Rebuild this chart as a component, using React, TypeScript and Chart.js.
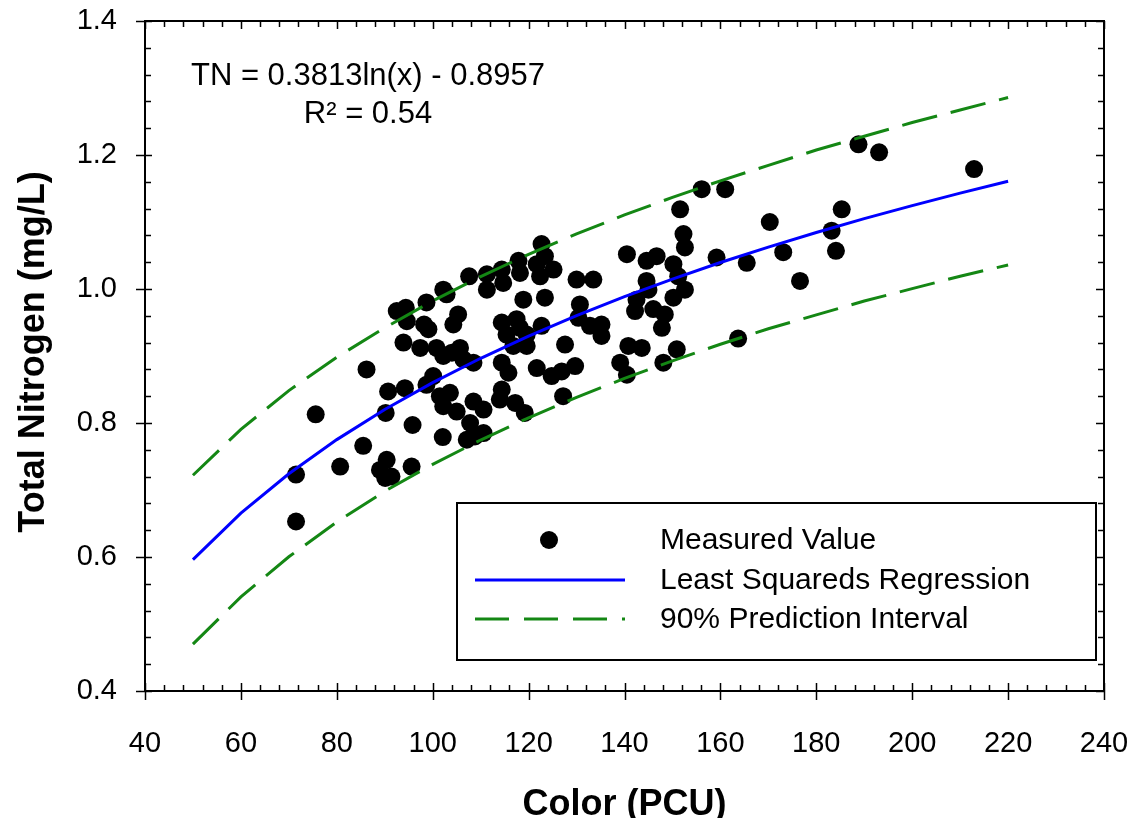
import React, { useEffect, useRef } from "react";
import { Chart, registerables } from "chart.js";

Chart.register(...registerables);

// Measured values (Color PCU, Total Nitrogen mg/L)
const measuredX = [
  107.6, 111.3, 111.3, 102.2, 102.9, 98.7, 92.5, 94.4, 94.6, 98.2, 99.1, 105.3, 104.3,
  93.9, 97.4, 100.8, 102.2, 104.0, 105.7, 106.4, 108.5, 86.2, 100.1, 98.7, 90.7, 94.2,
  101.5, 103.6, 102.2, 105.0, 108.5, 107.8, 75.6, 90.2, 95.8, 102.1, 107.1, 108.8, 85.5,
  80.7, 90.4, 89.0, 90.1, 91.4, 95.6, 71.5, 71.5,
  122.7, 140.5, 144.6, 146.7, 150.2, 152.3, 114.4, 114.7, 117.9, 118.2, 121.7, 123.4, 125.2,
  122.4, 118.9, 123.4, 130.0, 133.5, 144.6, 145.0, 150.2, 130.7, 142.5, 142.2, 146.0, 148.4,
  114.4, 117.5, 118.2, 115.4, 119.6, 122.7, 130.4, 132.8, 135.2, 135.2, 147.8, 116.8, 119.6,
  127.6, 140.8, 143.6, 150.9, 114.4, 115.8, 121.7, 124.8, 126.9, 129.7, 139.1, 140.5, 148.1,
  114.4, 114.0, 117.2, 119.2, 110.6, 127.2, 110.6,
  188.8, 193.1, 156.1, 161.0, 151.6, 185.3, 170.3, 152.6, 183.2, 159.2, 165.5, 173.1, 184.1,
  151.2, 152.6, 176.6, 163.7, 212.9,
];
const measuredY = [
  1.019, 1.022, 0.999, 0.999, 0.992, 0.98, 0.967, 0.972, 0.952, 0.947, 0.94, 0.962, 0.947,
  0.92, 0.912, 0.912, 0.9, 0.905, 0.912, 0.895, 0.89, 0.88, 0.87, 0.857, 0.847, 0.852,
  0.84, 0.845, 0.825, 0.817, 0.832, 0.8, 0.813, 0.815, 0.797, 0.779, 0.775, 0.78, 0.766,
  0.735, 0.745, 0.73, 0.718, 0.72, 0.735, 0.723, 0.653,
  1.067, 1.052, 1.042, 1.049, 1.037, 1.082, 1.029, 1.009, 1.042, 1.024, 1.037, 1.049, 1.029,
  1.019, 0.984, 0.987, 1.014, 1.014, 1.012, 0.999, 0.987, 0.977, 0.984, 0.967, 0.97, 0.962,
  0.95, 0.955, 0.942, 0.932, 0.932, 0.945, 0.957, 0.945, 0.947, 0.93, 0.942, 0.915, 0.915,
  0.917, 0.915, 0.912, 0.91, 0.89, 0.875, 0.882, 0.87, 0.877, 0.885, 0.89, 0.872, 0.89,
  0.85, 0.835, 0.83, 0.815, 0.82, 0.84, 0.785,
  1.216, 1.204, 1.149, 1.149, 1.119, 1.119, 1.1, 1.062, 1.087, 1.047, 1.039, 1.055, 1.057,
  1.019, 0.999, 1.012, 0.926, 1.179,
];

// Curves (read at 10 PCU steps)
const curveX = [50, 60, 70, 80, 90, 100, 110, 120, 130, 140, 150, 160, 170, 180, 190, 200, 210, 220];
const regressionY = [
  0.596, 0.6655, 0.7243, 0.7752, 0.8201, 0.8603, 0.8966, 0.9298, 0.9603, 0.9885, 1.0148,
  1.0395, 1.0626, 1.0844, 1.105, 1.1245, 1.1431, 1.1609,
];
const upperY = [
  0.722, 0.7905, 0.8483, 0.8982, 0.9421, 0.9823, 1.0186, 1.0518, 1.0823, 1.1105, 1.1368,
  1.1615, 1.1846, 1.2074, 1.228, 1.2485, 1.2671, 1.2859,
];
const lowerY = [
  0.47, 0.5405, 0.6003, 0.6522, 0.6981, 0.7383, 0.7746, 0.8078, 0.8383, 0.8665, 0.8928,
  0.9175, 0.9406, 0.9614, 0.982, 1.0005, 1.0191, 1.0359,
];

const X_MIN = 40, X_MAX = 240, X_STEP = 20, X_MINOR = 4;
const Y_MIN = 0.4, Y_MAX = 1.4, Y_STEP = 0.2, Y_MINOR = 0.04;

const labels = {
  x: "Color (PCU)",
  y: "Total Nitrogen (mg/L)",
  eq1: "TN = 0.3813ln(x) - 0.8957",
  eq2: "R\u00B2 = 0.54",
  measured: "Measured Value",
  regression: "Least Squareds Regression",
  interval: "90% Prediction Interval",
};

const FONT = "'Liberation Sans', Arial, sans-serif";
const BLUE = "#0000ff";
const GREEN = "rgb(20,135,20)";
const DASH = [36, 14];

const decorPlugin = {
  id: "decor",
  afterDraw(chart: any) {
    const { ctx, chartArea: a, scales } = chart;
    const xs = scales.x, ys = scales.y;
    ctx.save();
    ctx.strokeStyle = "#000";
    ctx.lineWidth = 2;
    ctx.strokeRect(a.left, a.top, a.right - a.left, a.bottom - a.top);

    const nx = Math.round((X_MAX - X_MIN) / X_MINOR);
    ctx.lineWidth = 1.5;
    for (let i = 0; i <= nx; i++) {
      const v = X_MIN + i * X_MINOR;
      const px = Math.round(xs.getPixelForValue(v)) + 0.5;
      const major = i % 5 === 0;
      ctx.beginPath();
      ctx.moveTo(px, a.bottom + (major ? 9 : 0));
      ctx.lineTo(px, a.bottom - (major ? 8 : 6));
      ctx.moveTo(px, a.top);
      ctx.lineTo(px, a.top + (major ? 8 : 6));
      ctx.stroke();
    }
    const ny = Math.round((Y_MAX - Y_MIN) / Y_MINOR);
    for (let i = 0; i <= ny; i++) {
      const v = Y_MIN + i * Y_MINOR;
      const py = Math.round(ys.getPixelForValue(v)) + 0.5;
      const major = i % 5 === 0;
      ctx.beginPath();
      ctx.moveTo(a.left - (major ? 9 : 0), py);
      ctx.lineTo(a.left + (major ? 7 : 6), py);
      ctx.moveTo(a.right, py);
      ctx.lineTo(a.right - (major ? 8 : 6), py);
      ctx.stroke();
    }

    ctx.fillStyle = "#000";
    ctx.font = `bold 36px ${FONT}`;
    ctx.textAlign = "center";
    ctx.textBaseline = "alphabetic";
    ctx.fillText(labels.x, (a.left + a.right) / 2, 815);
    ctx.save();
    ctx.translate(44, (a.top + a.bottom) / 2 - 4);
    ctx.rotate(-Math.PI / 2);
    ctx.fillText(labels.y, 0, 0);
    ctx.restore();

    ctx.font = `31px ${FONT}`;
    ctx.fillText(labels.eq1, 368, 85);
    ctx.fillText(labels.eq2, 368, 123);

    const bx = 457, by = 503, bw = 639, bh = 157;
    ctx.fillStyle = "#fff";
    ctx.fillRect(bx, by, bw, bh);
    ctx.lineWidth = 2;
    ctx.strokeStyle = "#000";
    ctx.strokeRect(bx, by, bw, bh);
    const rows = [540, 580, 619];
    ctx.fillStyle = "#000";
    ctx.beginPath();
    ctx.arc(549, rows[0], 9, 0, Math.PI * 2);
    ctx.fill();
    ctx.lineWidth = 3;
    ctx.strokeStyle = BLUE;
    ctx.beginPath();
    ctx.moveTo(475, rows[1]);
    ctx.lineTo(625, rows[1]);
    ctx.stroke();
    ctx.strokeStyle = GREEN;
    ctx.setLineDash([34, 15]);
    ctx.beginPath();
    ctx.moveTo(475, rows[2]);
    ctx.lineTo(625, rows[2]);
    ctx.stroke();
    ctx.setLineDash([]);
    ctx.font = `30px ${FONT}`;
    ctx.textAlign = "left";
    ctx.textBaseline = "middle";
    ctx.fillStyle = "#000";
    ctx.fillText(labels.measured, 660, rows[0] + 1);
    ctx.fillText(labels.regression, 660, rows[1] + 1);
    ctx.fillText(labels.interval, 660, rows[2] + 1);
    ctx.restore();
  },
};

export default function App() {
  const ref = useRef<HTMLCanvasElement | null>(null);
  useEffect(() => {
    if (!ref.current) return;
    const pts = measuredX.map((x, i) => ({ x, y: measuredY[i] }));
    const line = (ys: number[]) => curveX.map((x, i) => ({ x, y: ys[i] }));
    const chart = new Chart(ref.current, {
      type: "scatter",
      data: {
        datasets: [
          {
            label: labels.measured,
            data: pts,
            backgroundColor: "#000",
            borderWidth: 0,
            pointRadius: 9,
            order: 3,
          },
          {
            label: labels.regression,
            data: line(regressionY),
            showLine: true,
            borderColor: BLUE,
            borderWidth: 3,
            pointRadius: 0,
            order: 0,
          },
          {
            label: labels.interval,
            data: line(upperY),
            showLine: true,
            borderColor: GREEN,
            borderWidth: 3,
            borderDash: DASH,
            pointRadius: 0,
            order: 1,
          },
          {
            label: labels.interval + " (lower)",
            data: line(lowerY),
            showLine: true,
            borderColor: GREEN,
            borderWidth: 3,
            borderDash: DASH,
            pointRadius: 0,
            order: 1,
          },
        ],
      },
      options: {
        animation: false,
        responsive: true,
        maintainAspectRatio: false,
        layout: { padding: { top: 21, right: 28, left: 0, bottom: 0 } },
        plugins: { legend: { display: false }, tooltip: { enabled: false } },
        scales: {
          x: {
            type: "linear",
            min: X_MIN,
            max: X_MAX,
            grid: { display: false, drawTicks: false },
            border: { display: false },
            ticks: {
              stepSize: X_STEP,
              padding: 36,
              color: "#000",
              font: { family: FONT, size: 29 },
              maxRotation: 0,
            },
            afterFit: (s: any) => {
              s.height = 127;
              s.paddingLeft = 0;
              s.paddingRight = 0;
            },
          },
          y: {
            type: "linear",
            min: Y_MIN,
            max: Y_MAX,
            grid: { display: false, drawTicks: false },
            border: { display: false },
            ticks: {
              stepSize: Y_STEP,
              padding: 28,
              color: "#000",
              font: { family: FONT, size: 29 },
              callback: (v: any) => Number(v).toFixed(1),
            },
            afterFit: (s: any) => {
              s.width = 145;
              s.paddingTop = 0;
              s.paddingBottom = 0;
            },
          },
        },
      },
      plugins: [decorPlugin],
    });
    return () => chart.destroy();
  }, []);
  return (
    <div style={{ position: "absolute", left: 0, top: 0, width: 1132, height: 818, background: "#fff" }}>
      <canvas ref={ref} />
    </div>
  );
}
